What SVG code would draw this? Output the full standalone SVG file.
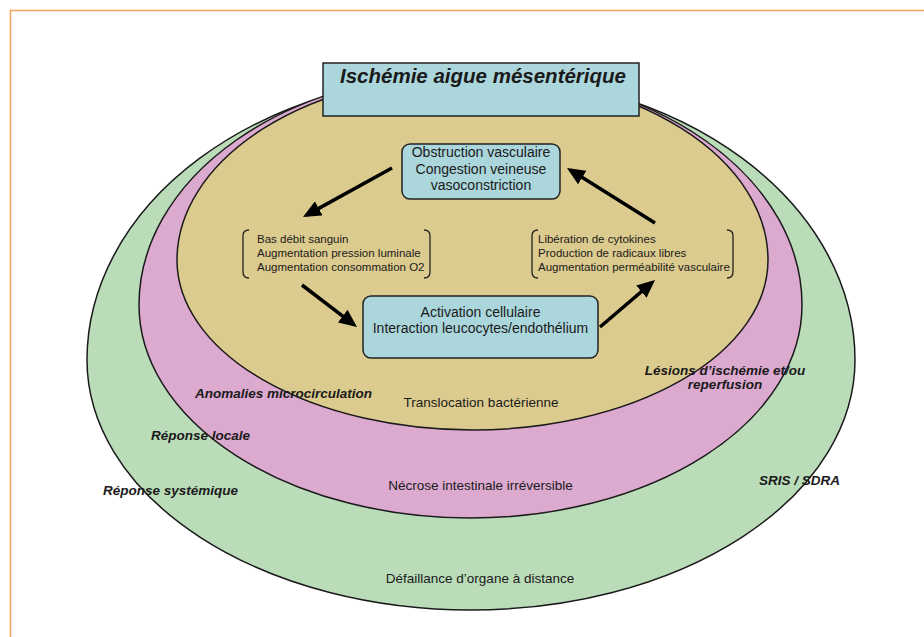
<svg xmlns="http://www.w3.org/2000/svg" width="924" height="637" viewBox="0 0 924 637">
  <defs>
    <style>
      .zone { stroke: #1a1a1a; stroke-width: 1.5; }
      .box { fill: #abd6dc; stroke: #222; stroke-width: 1.5; }
      .t { font-family: "Liberation Sans", Arial, sans-serif; fill: #1a1a1a; }
      .bi { font-family: "Liberation Sans", Arial, sans-serif; font-weight: bold; font-style: italic; fill: #1a1a1a; font-size: 13.5px; }
      .small { font-size: 11.5px; }
      .mid { font-size: 14px; text-anchor: middle; }
      .br { fill: none; stroke: #222; stroke-width: 1.3; }
      .arrow { stroke: #000; stroke-width: 3.5; fill: none; marker-end: url(#head); }
    </style>
    <marker id="head" markerUnits="userSpaceOnUse" markerWidth="18" markerHeight="16" refX="14" refY="8" orient="auto">
      <path d="M0,0 L18,8 L0,16 Z" fill="#000"/>
    </marker>
  </defs>

  <rect width="924" height="637" fill="#ffffff"/>
  <path d="M10.5 637 V10.5 H924" fill="none" stroke="#f4a35c" stroke-width="1.5"/>

  <g id="zone-systemique">
    <path class="zone" fill="#badcb9" d="M87 360 A384 285 0 0 1 855 360 A384 250 0 0 1 87 360 Z"/>
    <text class="t" x="480" y="583" font-size="13.5" text-anchor="middle">Défaillance d’organe à distance</text>
  </g>

  <g id="zone-locale">
    <path class="zone" fill="#dca9cf" d="M139 305 A331.5 233 0 0 1 802 305 A331.5 213 0 0 1 139 305 Z"/>
    <text class="t" x="480.5" y="490" font-size="13.5" text-anchor="middle">Nécrose intestinale irréversible</text>
  </g>

  <g id="zone-cycle">
    <path class="zone" fill="#dccb8e" d="M177 260 A295.5 186 0 0 1 768 260 A295.5 170 0 0 1 177 260 Z"/>
    <text class="t" x="481" y="407" font-size="13.5" text-anchor="middle">Translocation bactérienne</text>
  </g>

  <g id="title">
    <rect class="box" x="323" y="63" width="316" height="53"/>
    <text class="t" x="483" y="83" font-size="20.5" font-weight="bold" font-style="italic" text-anchor="middle">Ischémie aigue mésentérique</text>
  </g>

  <g id="obstruction">
    <rect class="box" x="402" y="144" width="158" height="55" rx="8"/>
    <text class="t mid" x="481" y="157">Obstruction vasculaire</text>
    <text class="t mid" x="481" y="173.5">Congestion veineuse</text>
    <text class="t mid" x="481" y="190">vasoconstriction</text>
  </g>

  <g id="bas-debit">
    <path class="br" d="M249 230 Q243 230 243 236 V272 Q243 278 249 278"/>
    <path class="br" d="M424 230 Q430 230 430 236 V272 Q430 278 424 278"/>
    <text class="t small" x="257" y="243">Bas débit sanguin</text>
    <text class="t small" x="257" y="257">Augmentation pression luminale</text>
    <text class="t small" x="257" y="271">Augmentation consommation O2</text>
  </g>

  <g id="liberation">
    <path class="br" d="M538 230 Q532 230 532 236 V272 Q532 278 538 278"/>
    <path class="br" d="M727 230 Q733 230 733 236 V272 Q733 278 727 278"/>
    <text class="t small" x="538" y="243">Libération de cytokines</text>
    <text class="t small" x="538" y="257">Production de radicaux libres</text>
    <text class="t small" x="538" y="271">Augmentation perméabilité vasculaire</text>
  </g>

  <g id="activation">
    <rect class="box" x="363" y="296" width="235" height="62" rx="8"/>
    <text class="t mid" x="480.5" y="317">Activation cellulaire</text>
    <text class="t mid" x="480.5" y="333">Interaction leucocytes/endothélium</text>
  </g>

  <g id="labels">
    <text class="bi" x="195" y="398">Anomalies microcirculation</text>
    <text class="bi" x="151" y="440">Réponse locale</text>
    <text class="bi" x="103" y="495">Réponse systémique</text>
    <text class="bi" x="725" y="375" text-anchor="middle">Lésions d’ischémie et/ou</text>
    <text class="bi" x="725" y="389" text-anchor="middle">reperfusion</text>
    <text class="bi" x="759" y="485">SRIS / SDRA</text>
  </g>

  <g id="connectors">
    <line class="arrow" x1="392" y1="168" x2="306.5" y2="215.1"/>
    <line class="arrow" x1="302" y1="285" x2="353.8" y2="324.6"/>
    <line class="arrow" x1="600" y1="327" x2="652" y2="282.6"/>
    <line class="arrow" x1="655" y1="223" x2="570.4" y2="170.1"/>
  </g>
</svg>
